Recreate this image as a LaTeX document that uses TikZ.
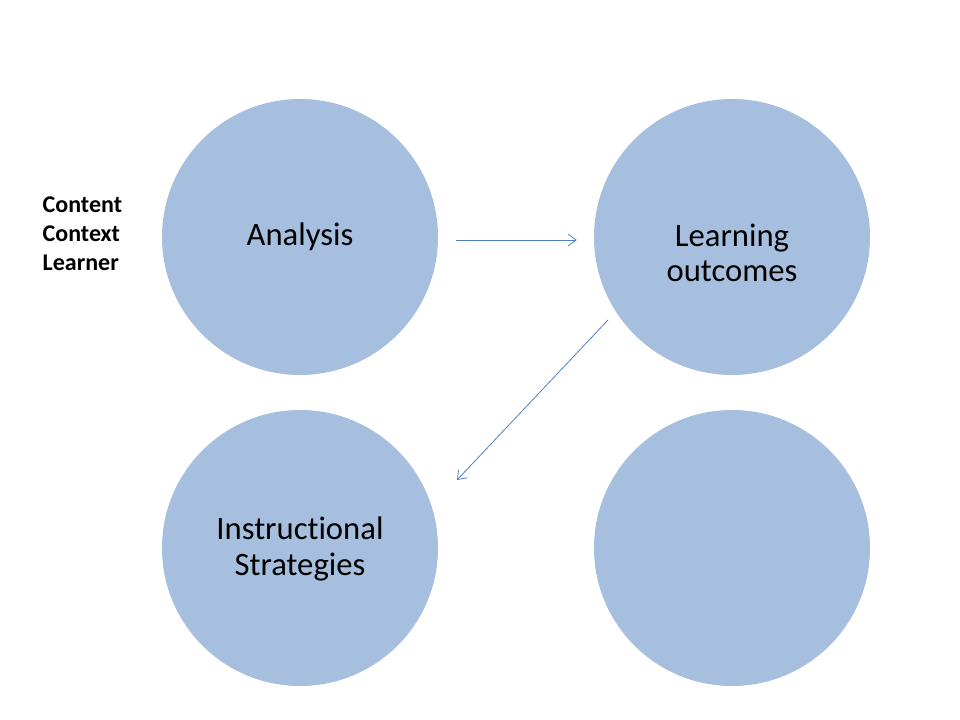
\documentclass[tikz,border=0pt]{standalone}
\usepackage{fontspec}
\setmainfont{Carlito}[Ligatures=NoCommon]
\usetikzlibrary{arrows.meta}
\definecolor{phase}{HTML}{A7BFDE}
\definecolor{flow}{HTML}{4F81BD}

\begin{document}
\begin{tikzpicture}[x=0.75pt,y=-0.75pt,
    phase/.style={circle,fill=phase,minimum size=207pt,inner sep=0pt},
    label/.style={align=center,font=\fontsize{24.5}{26.8}\selectfont},
    flow/.style={draw=flow,line width=0.6pt,-{Straight Barb[length=6pt,width=9pt]}}]
      \useasboundingbox (0,0) rectangle (960,720);
      \node[phase] (analysis) at (300,237) {};
      \node[phase] (outcomes) at (732,237) {};
      \node[phase] (strategies) at (300,548) {};
      \node[phase] (blank) at (732,548) {};
      \node[label] (analysistext) at (300,237) {Analysis};
      \node[label] (outcomestext) at (732,253) {Learning\\outcomes};
      \node[label] (strategiestext) at (300,549) {Instructional\\Strategies};
      \node[align=left,anchor=north west,font=\bfseries\fontsize{18}{21.8}\selectfont] (inputs) at (38,192) {Content\\Context\\Learner};
      \coordinate (lostart) at (608,320);
      \coordinate (isend) at (457,480);
      \draw[flow,shorten <=18pt*0.75,shorten >=17pt*0.75] ([yshift=-2.25pt]analysis.east) -- ([yshift=-2.25pt]outcomes.west);
      \draw[flow] (lostart) -- (isend);
   \end{tikzpicture}
\end{document}
